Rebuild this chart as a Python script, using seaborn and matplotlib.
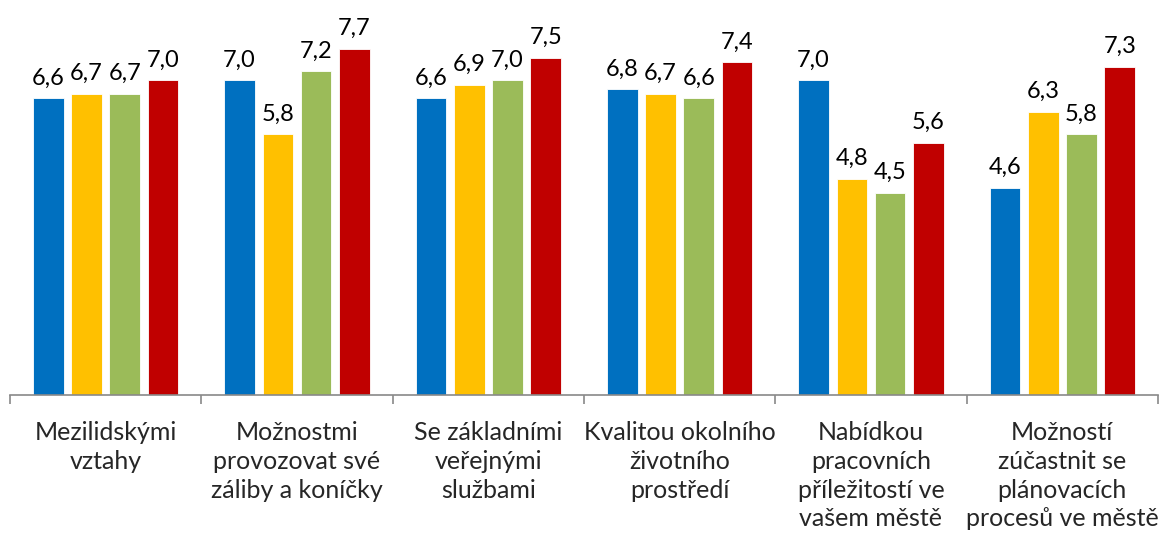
import matplotlib

matplotlib.use("Agg")
import matplotlib.pyplot as plt
import pandas as pd
import seaborn as sns

categories = [
    "Mezilidskými\nvztahy",
    "Možnostmi\nprovozovat své\nzáliby a koníčky",
    "Se základními\nveřejnými\nslužbami",
    "Kvalitou okolního\nživotního\nprostředí",
    "Nabídkou\npracovních\npříležitostí ve\nvašem městě",
    "Možností\nzúčastnit se\nplánovacích\nprocesů ve městě",
]
series = ["S1", "S2", "S3", "S4"]
s1 = [6.6, 7.0, 6.6, 6.8, 7.0, 4.6]
s2 = [6.7, 5.8, 6.9, 6.7, 4.8, 6.3]
s3 = [6.7, 7.2, 7.0, 6.6, 4.5, 5.8]
s4 = [7.0, 7.7, 7.5, 7.4, 5.6, 7.3]
colors = ["#0070C0", "#FFC000", "#9BBB59", "#C00000"]

rows = []
for name, vals in zip(series, [s1, s2, s3, s4]):
    for cat, v in zip(categories, vals):
        rows.append({"cat": cat, "series": name, "value": v})
df = pd.DataFrame(rows)

sns.set_theme(style="white")
plt.rcParams["font.family"] = ["Lato", "DejaVu Sans"]

fig = plt.figure(figsize=(11.61, 5.39), dpi=100)
ax = fig.add_axes([10 / 1161, 144 / 539, 1148 / 1161, 395 / 539])

sns.barplot(data=df, x="cat", y="value", hue="series", order=categories,
            hue_order=series, palette=colors, saturation=1, width=0.8, gap=0.2,
            edgecolor="white", linewidth=0.6, legend=False, ax=ax)

for cont in ax.containers:
    labels = [f"{b.get_height():.1f}".replace(".", ",") for b in cont]
    ax.bar_label(cont, labels=labels, padding=7, fontsize=17, color="black")

ax.set_ylim(0, 8.78)
ax.set_xlim(-0.5, len(categories) - 0.5)
ax.set_xlabel("")
ax.set_ylabel("")
ax.set_yticks([])
for side in ["top", "right", "left"]:
    ax.spines[side].set_visible(False)
ax.spines["bottom"].set_color("#898989")
ax.spines["bottom"].set_linewidth(1.2)

ax.set_xticks(range(len(categories)))
ax.set_xticklabels(categories, fontsize=18, linespacing=1.3, va="top")
ax.set_xticks([i - 0.5 for i in range(len(categories) + 1)], minor=True)
ax.tick_params(axis="x", which="major", length=0, pad=19)
ax.tick_params(axis="x", which="minor", length=6.5, width=1.2, color="#898989",
               direction="out", bottom=True)

fig.savefig("out.png", dpi=100)
